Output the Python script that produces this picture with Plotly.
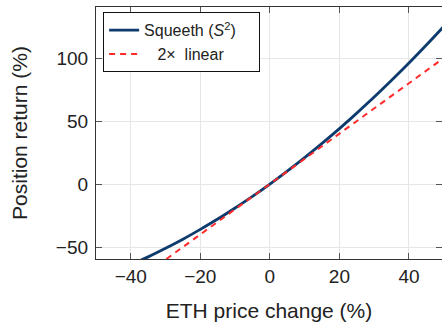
import plotly.graph_objects as go

# ETH price change (%) and position returns (%)
eth_change = [-40, -35, -30, -25, -20, -15, -10, -5, 0, 5, 10, 15, 20, 25, 30, 35, 40, 45, 50]
squeeth_return = [-64, -57.8, -51, -43.8, -36, -27.8, -19, -9.8, 0, 10.3, 21, 32.3, 44, 56.3, 69, 82.3, 96, 110.3, 125]

linear_change = [-40, -20, 0, 20, 40, 50]
linear_return = [-80, -40, 0, 40, 80, 100]

x_ticks = [-40, -20, 0, 20, 40]
y_ticks = [-50, 0, 50, 100]

FONT = "Liberation Sans"

fig = go.Figure()
fig.add_trace(go.Scatter(
    x=eth_change, y=squeeth_return, mode="lines", line_shape="spline",
    name="Squeeth (<i>S</i><sup>2</sup>)\u00a0\u00a0\u00a0\u00a0",
    line=dict(color="#0d3b6e", width=2.8),
))
fig.add_trace(go.Scatter(
    x=linear_change, y=linear_return, mode="lines",
    name="\u00a0\u00a0\u00a02\u00d7\u00a0 linear",
    line=dict(color="#ff2a2a", width=2, dash="6px,5px"),
))

axis_common = dict(
    showline=True, linecolor="#333333", linewidth=1.2, mirror="ticks",
    ticks="inside", ticklen=6, tickcolor="#555555", tickwidth=1,
    showgrid=True, gridcolor="#e6e6e6", gridwidth=1, zeroline=False,
    automargin=False,
    tickfont=dict(family=FONT, size=19, color="#222222"),
)

fig.update_layout(
    width=442, height=322,
    margin=dict(l=96, r=0, t=7, b=63),
    paper_bgcolor="white", plot_bgcolor="white",
    showlegend=True,
    legend=dict(
        x=0.02, y=0.98, xanchor="left", yanchor="top",
        bgcolor="white", bordercolor="#111111", borderwidth=1.2,
        font=dict(family=FONT, size=16, color="#222222"),
    ),
    xaxis=dict(
        range=[-50, 49.5], tickvals=x_ticks,
        title=dict(text="ETH price change (%)", font=dict(family=FONT, size=21, color="#222222"), standoff=17),
        **axis_common,
    ),
    yaxis=dict(
        range=[-59.5, 140.5], tickvals=y_ticks, ticklabelstandoff=3,
        title=dict(text="Position return (%)", font=dict(family=FONT, size=21, color="#222222"), standoff=22),
        **axis_common,
    ),
)

fig.write_html(
    "out.html",
    config={"displayModeBar": False},
    post_script="document.body.style.margin='0';document.body.style.overflow='hidden';",
)
